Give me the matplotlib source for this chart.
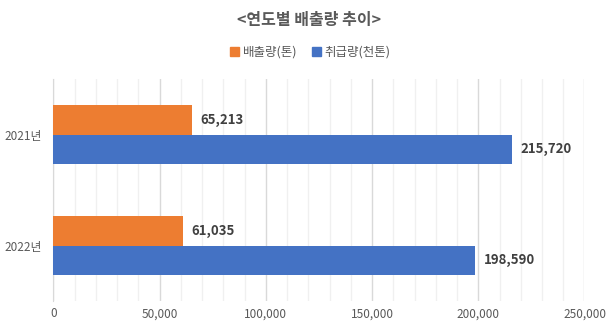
import numpy as np
import matplotlib.pyplot as plt
from matplotlib.patches import Patch
from matplotlib.ticker import MultipleLocator, FuncFormatter

plt.rcParams["font.family"] = ["Noto Sans CJK KR", "DejaVu Sans"]

years = ["2021년", "2022년"]
emission = [65213, 61035]      # 배출량(톤)
handled = [215720, 198590]     # 취급량(천톤)
series_names = ["배출량(톤)", "취급량(천톤)"]
colors = ["#ED7D31", "#4472C4"]

fig = plt.figure(figsize=(6.15, 3.28), dpi=100)
ax = fig.add_axes([0.0867, 0.0823, 0.8637, 0.6768])

y = np.arange(len(years))
h = 0.264
ax.barh(y - h / 2, emission, height=h, color=colors[0], zorder=3)
ax.barh(y + h / 2, handled, height=h, color=colors[1], zorder=3)

for yi, v in zip(y - h / 2, emission):
    ax.annotate(f"{v:,}", (v, yi), xytext=(6, 0), textcoords="offset points",
                va="center", ha="left", fontsize=9.5, fontweight="bold", color="#404040")
for yi, v in zip(y + h / 2, handled):
    ax.annotate(f"{v:,}", (v, yi), xytext=(6, 0), textcoords="offset points",
                va="center", ha="left", fontsize=9.5, fontweight="bold", color="#404040")

ax.set_xlim(0, 250000)
ax.set_ylim(1.5, -0.5)
ax.set_yticks(y)
ax.set_yticklabels(years)
ax.xaxis.set_major_locator(MultipleLocator(50000))
ax.xaxis.set_minor_locator(MultipleLocator(10000))
ax.xaxis.set_major_formatter(FuncFormatter(lambda v, p: f"{int(v):,}"))
ax.grid(axis="x", which="major", color="#D9D9D9", linewidth=1, zorder=0)
ax.grid(axis="x", which="minor", color="#F0F0F0", linewidth=1, zorder=0)
ax.tick_params(axis="both", which="both", length=0, labelsize=8.5, labelcolor="#595959")
ax.tick_params(axis="x", pad=4.5)
ax.tick_params(axis="y", pad=8)
for side in ["top", "right", "bottom"]:
    ax.spines[side].set_visible(False)
ax.spines["left"].set_color("#D9D9D9")

fig.text(0.503, 0.94, "<연도별 배출량 추이>", ha="center", va="center",
         fontsize=11.5, fontweight="bold", color="#595959")
handles = [Patch(color=c, label=n) for c, n in zip(colors, series_names)]
fig.legend(handles=handles, loc="center", bbox_to_anchor=(0.505, 0.84), ncol=2,
           frameon=False, fontsize=9, labelcolor="#595959", handlelength=0.7,
           handleheight=0.7, handletextpad=0.3, columnspacing=1.2)

fig.savefig("out.png", dpi=100)
